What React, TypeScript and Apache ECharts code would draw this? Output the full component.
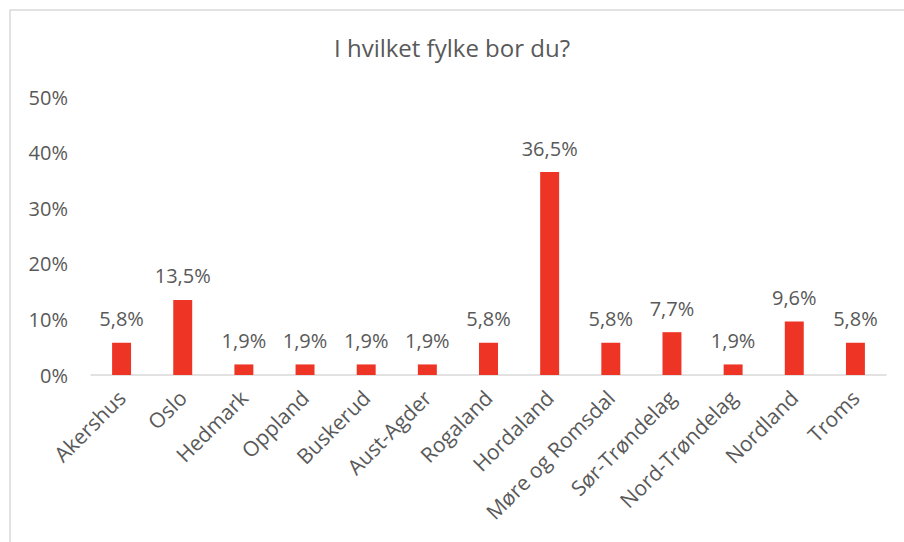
import React, { useEffect, useRef } from "react";
import * as echarts from "echarts";

const categories = [
  "Akershus", "Oslo", "Hedmark", "Oppland", "Buskerud", "Aust-Agder", "Rogaland",
  "Hordaland", "Møre og Romsdal", "Sør-Trøndelag", "Nord-Trøndelag", "Nordland", "Troms",
];
const values = [5.8, 13.5, 1.9, 1.9, 1.9, 1.9, 5.8, 36.5, 5.8, 7.7, 1.9, 9.6, 5.8];
const yTicks = { min: 0, max: 50, interval: 10 };
const title = "I hvilket fylke bor du?";

const FONT = "'Open Sans', 'Noto Sans', sans-serif";
const TEXT = "#595959";

export default function App() {
  const ref = useRef<HTMLDivElement>(null);
  useEffect(() => {
    if (!ref.current) return;
    const chart = echarts.init(ref.current, null, { renderer: "svg" });
    chart.setOption({
      animation: false,
      backgroundColor: "#ffffff",
      title: {
        text: title,
        left: "center",
        top: 30,
        textStyle: { color: TEXT, fontFamily: FONT, fontSize: 24, fontWeight: "normal" },
      },
      graphic: [
        {
          type: "rect",
          shape: { x: 10, y: 10, width: 1000, height: 1000 },
          style: { fill: "none", stroke: "#d9d9d9", lineWidth: 1.5 },
          silent: true,
        },
      ],
      grid: { left: 91, right: 18, top: 97, bottom: 167, containLabel: false },
      xAxis: {
        type: "category",
        data: categories,
        axisLine: { show: true, lineStyle: { color: "#d9d9d9", width: 1.5 } },
        axisTick: { show: false },
        axisLabel: {
          rotate: 45,
          interval: 0,
          margin: 19,
          color: TEXT,
          fontFamily: FONT,
          fontSize: 21,
        },
      },
      yAxis: {
        type: "value",
        min: yTicks.min,
        max: yTicks.max,
        interval: yTicks.interval,
        axisLine: { show: false },
        axisTick: { show: false },
        splitLine: { show: false },
        axisLabel: {
          formatter: "{value}%",
          margin: 23,
          color: TEXT,
          fontFamily: FONT,
          fontSize: 20,
        },
      },
      series: [
        {
          type: "bar",
          data: values,
          barWidth: "31%",
          itemStyle: { color: "#EE3424" },
          label: {
            show: true,
            position: "top",
            distance: 14,
            color: TEXT,
            fontFamily: FONT,
            fontSize: 20,
            formatter: (p: any) => String(p.value.toFixed(1)).replace(".", ",") + "%",
          },
        },
      ],
    });
    return () => chart.dispose();
  }, []);
  return (
    <div
      ref={ref}
      style={{ position: "fixed", left: 0, top: 0, width: 904, height: 542 }}
    />
  );
}
